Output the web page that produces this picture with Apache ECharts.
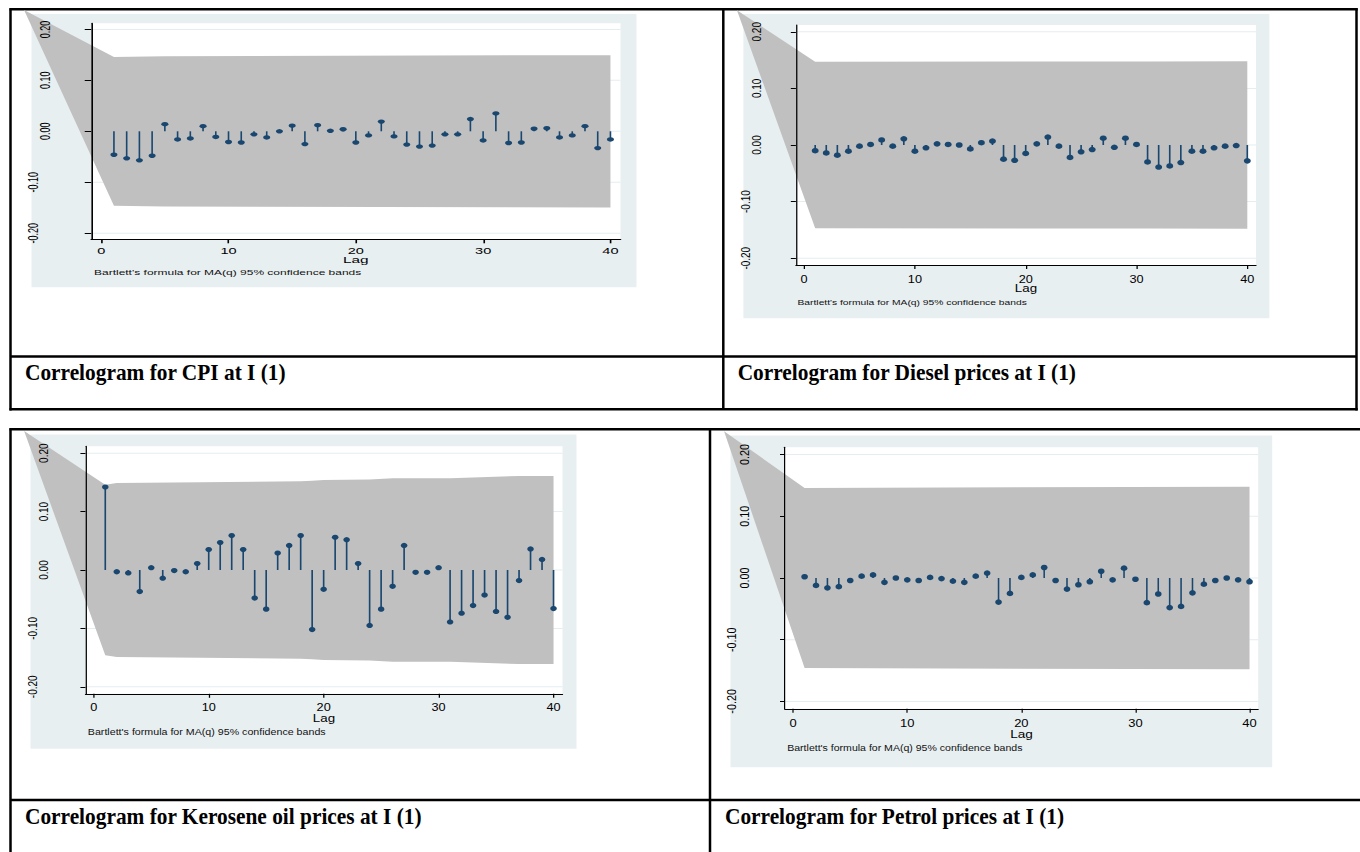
<!DOCTYPE html>
<html>
<head>
<meta charset="utf-8">
<script src="https://cdn.jsdelivr.net/npm/echarts@6/dist/echarts.min.js"></script>
<style>
html, body { margin: 0; padding: 0; background: #fff; }
#page { position: absolute; left: 0; top: 0; width: 1360px; height: 852px; }
.panel { position: absolute; transform-origin: 0 0; }
</style>
</head>
<body>
<div id="page"></div>
<div id="p1" class="panel"></div>
<div id="p2" class="panel"></div>
<div id="p3" class="panel"></div>
<div id="p4" class="panel"></div>
<script>
// lags and autocorrelations
var lags = [1, 2, 3, 4, 5, 6, 7, 8, 9, 10, 11, 12, 13, 14, 15, 16, 17, 18, 19, 20,
            21, 22, 23, 24, 25, 26, 27, 28, 29, 30, 31, 32, 33, 34, 35, 36, 37, 38, 39, 40];

var cpiAcf = [-0.046, -0.053, -0.057, -0.048, 0.014, -0.016, -0.014, 0.010, -0.011, -0.021,
              -0.022, -0.006, -0.012, 0.000, 0.011, -0.025, 0.012, 0.001, 0.004, -0.022,
              -0.008, 0.019, -0.010, -0.026, -0.030, -0.028, -0.006, -0.006, 0.024, -0.018,
              0.035, -0.023, -0.022, 0.005, 0.006, -0.012, -0.008, 0.010, -0.033, -0.016];

var dieselAcf = [-0.010, -0.014, -0.018, -0.011, -0.002, 0.001, 0.009, -0.002, 0.011, -0.011,
                 -0.005, 0.002, 0.001, 0.000, -0.007, 0.004, 0.007, -0.025, -0.027, -0.015,
                 0.002, 0.014, -0.002, -0.022, -0.012, -0.008, 0.012, -0.004, 0.012, 0.001,
                 -0.030, -0.039, -0.037, -0.031, -0.011, -0.011, -0.005, -0.002, -0.001, -0.028];

var keroseneAcf = [0.142, -0.003, -0.005, -0.037, 0.004, -0.014, -0.001, -0.003, 0.011, 0.035,
                   0.047, 0.059, 0.035, -0.048, -0.067, 0.029, 0.042, 0.059, -0.102, -0.033,
                   0.056, 0.052, 0.011, -0.095, -0.067, -0.028, 0.042, -0.004, -0.004, 0.004,
                   -0.089, -0.074, -0.061, -0.043, -0.071, -0.081, -0.018, 0.036, 0.018, -0.066];

var petrolAcf = [0.002, -0.012, -0.016, -0.014, -0.004, 0.003, 0.005, -0.007, 0.000, -0.003,
                 -0.004, 0.001, -0.001, -0.005, -0.007, 0.003, 0.008, -0.039, -0.025, 0.001,
                 0.005, 0.017, -0.004, -0.018, -0.011, -0.006, 0.011, -0.003, 0.016, -0.002,
                 -0.040, -0.026, -0.048, -0.046, -0.024, -0.010, -0.004, 0.000, -0.003, -0.006];

// Bartlett 95% band half widths (read at the lags where they change)
var cpiBandLags = [1, 5, 40];
var cpiBandHalf = [0.146, 0.1475, 0.1495];
var dieselBandLags = [1, 31, 40];
var dieselBandHalf = [0.147, 0.1475, 0.148];
var keroseneBandLags = [1, 2, 18, 19, 20, 24, 26, 31, 37, 40];
var keroseneBandHalf = [0.146, 0.149, 0.152, 0.153, 0.154, 0.155, 0.157, 0.157, 0.161, 0.161];
var petrolBandLags = [1, 40];
var petrolBandHalf = [0.146, 0.148];
// the shaded area runs up to this corner, outside the plot
var bandApex = [-6.06, 0.238];

var xTicks = [0, 10, 20, 30, 40];
var yTicks = [-0.2, -0.1, 0, 0.1, 0.2];
var yTicksPos = [0, 0.1, 0.2];
var yTicksNeg = [-0.2, -0.1];

var captions = ['Correlogram for CPI at I (1)', 'Correlogram for Diesel prices at I (1)',
                'Correlogram for Kerosene oil prices at I (1)', 'Correlogram for Petrol prices at I (1)'];
var noteText = "Bartlett's formula for MA(q) 95% confidence bands";

var navy = '#1a476f';
var sans = 'Liberation Sans';

// page: table rules and captions
function drawPage() {
    var rules = [
        [9.5, 9.3, 1357.7, 9.3], [10.5, 8.3, 10.5, 410.5], [723.3, 9.3, 723.3, 409.3],
        [1356.5, 8.3, 1356.5, 410.5], [10.5, 356.5, 1356.5, 356.5], [9.5, 409.3, 1357.7, 409.3],
        [9.5, 429.3, 1360, 429.3], [10.5, 428.3, 10.5, 852], [710, 429.3, 710, 852],
        [10.5, 800, 1360, 800]
    ];
    var capPos = [[25, 372.5], [737.7, 372.5], [25, 816], [725, 816]];
    var els = [];
    rules.forEach(function (r) {
        els.push({type: 'line', shape: {x1: r[0], y1: r[1], x2: r[2], y2: r[3]},
                  style: {stroke: '#000', lineWidth: 2.5}});
    });
    captions.forEach(function (c, i) {
        els.push({type: 'text', x: capPos[i][0], y: capPos[i][1], scaleX: 0.89,
                  style: {text: c, font: 'bold 24px "Liberation Serif"', fill: '#000', verticalAlign: 'middle'}});
    });
    echarts.init(document.getElementById('page'), null, {renderer: 'svg'})
        .setOption({animation: false, graphic: {elements: els}});
}

function drawPanel(p) {
    var sx = p.sx, L = p.box[0], T = p.box[1];
    var dom = document.getElementById(p.id);
    dom.style.left = L + 'px';
    dom.style.top = T + 'px';
    dom.style.width = (p.box[2] / sx) + 'px';
    dom.style.height = p.box[3] + 'px';
    dom.style.transform = 'scaleX(' + sx + ')';
    var nx = function (x) { return (x - L) / sx; };
    var ny = function (y) { return y - T; };

    var pts = lags.map(function (l, i) { return [l, p.acf[i]]; });
    var fmt = function (v) { return v.toFixed(2); };
    var labelStyle = {fontSize: p.fs, fontFamily: sans, color: '#000'};

    var yBase = {type: 'value', min: -p.yr, max: p.yr, position: 'left', z: 10,
                 splitLine: {show: false}};
    var option = {
        animation: false,
        grid: {left: nx(p.plot[0]), top: ny(p.plot[1]), width: (p.plot[2] - p.plot[0]) / sx,
               height: p.plot[3] - p.plot[1], show: true, backgroundColor: '#fff', borderWidth: 0},
        xAxis: {
            type: 'value', min: p.xr[0], max: p.xr[1], z: 10,
            name: 'Lag', nameLocation: 'middle', nameGap: p.nameGap, nameMoveOverlap: false,
            nameTextStyle: {fontSize: p.fs + 0.5, fontFamily: sans, color: '#000'},
            axisLine: {onZero: false, lineStyle: {color: '#000', width: 1}},
            axisTick: {customValues: xTicks, length: 4, lineStyle: {color: '#000'}},
            axisLabel: Object.assign({customValues: xTicks, margin: p.labelMargin}, labelStyle),
            splitLine: {show: false}
        },
        yAxis: [
            Object.assign({}, yBase, {
                axisLine: {show: true, onZero: false, lineStyle: {color: '#000', width: 1}},
                axisTick: {show: true, customValues: yTicks, length: 4, lineStyle: {color: '#000'}},
                axisLabel: Object.assign({customValues: yTicksPos, rotate: 90, margin: p.posMargin, formatter: fmt}, labelStyle)
            }),
            Object.assign({}, yBase, {
                axisLine: {show: false, onZero: false},
                axisTick: {show: false},
                axisLabel: Object.assign({customValues: yTicksNeg, rotate: 90, margin: p.negMargin, formatter: fmt}, labelStyle)
            })
        ],
        graphic: {elements: [
            {type: 'rect', z: -10, silent: true,
             shape: {x: nx(p.bg[0]), y: ny(p.bg[1]), width: (p.bg[2] - p.bg[0]) / sx, height: p.bg[3] - p.bg[1]},
             style: {fill: '#e8eff1'}},
            {type: 'text', x: nx(p.note[0]), y: ny(p.note[1]), z: 5,
             style: {text: noteText, font: p.noteFs + 'px "' + sans + '"', fill: '#111', verticalAlign: 'middle'}}
        ]},
        series: [
            {   // faint grid lines at the y ticks
                type: 'custom', z: 1, silent: true, clip: false,
                data: yTicks.map(function (v) { return [p.xr[0], v]; }),
                renderItem: function (params, api) {
                    var a = api.coord([api.value(0), api.value(1)]);
                    var b = api.coord([p.xr[1], api.value(1)]);
                    return {type: 'line', shape: {x1: a[0], y1: a[1], x2: b[0], y2: b[1]},
                            style: {stroke: '#e4edf0', lineWidth: 1}};
                }
            },
            {   // confidence band
                type: 'custom', z: 1.5, silent: true, clip: false,
                data: [[p.bandLags[0], p.bandHalf[0]]],
                renderItem: function (params, api) {
                    var points = [api.coord(bandApex)];
                    for (var i = 0; i < p.bandLags.length; i++) {
                        points.push(api.coord([p.bandLags[i], p.bandHalf[i]]));
                    }
                    for (var j = p.bandLags.length - 1; j >= 0; j--) {
                        points.push(api.coord([p.bandLags[j], -p.bandHalf[j]]));
                    }
                    return {type: 'polygon', shape: {points: points}, style: {fill: '#c0c0c0'}};
                }
            },
            {type: 'bar', data: pts, barWidth: p.stem, z: 2, silent: true,
             itemStyle: {color: navy}},
            {type: 'scatter', data: pts, symbol: 'circle', symbolSize: p.sym, z: 3, silent: true,
             itemStyle: {color: navy, opacity: 1}}
        ]
    };
    echarts.init(dom, null, {renderer: 'svg'}).setOption(option);
}

var panels = [
    {id: 'p1', acf: cpiAcf, bandLags: cpiBandLags, bandHalf: cpiBandHalf,
     box: [11.5, 10, 710.5, 345.5], sx: 1.62, bg: [31, 14, 636, 287.3], plot: [90.7, 23.3, 620, 239.3],
     xr: [-0.786, 40.79], yr: 0.212, fs: 9, noteFs: 7.4, note: [93.5, 272], sym: 4.4, stem: 1,
     posMargin: 24, negMargin: 31.5, labelMargin: 7, nameGap: 15.5},
    {id: 'p2', acf: dieselAcf, bandLags: dieselBandLags, bandHalf: dieselBandHalf,
     box: [724.5, 10, 631, 345.5], sx: 1.27, bg: [742.9, 14, 1268.9, 318.3], plot: [795.4, 25, 1255.5, 265],
     xr: [-0.74, 40.785], yr: 0.212, fs: 10, noteFs: 8.1, note: [797, 302.3], sym: 5.5, stem: 1.3,
     posMargin: 26, negMargin: 34.5, labelMargin: 9, nameGap: 18.3},
    {id: 'p3', acf: keroseneAcf, bandLags: keroseneBandLags, bandHalf: keroseneBandHalf,
     box: [11.5, 430.5, 697.5, 368.5], sx: 1.27, bg: [30, 434, 576, 748.3], plot: [85, 445.7, 562, 693.3],
     xr: [-0.72, 40.78], yr: 0.212, fs: 10, noteFs: 8.4, note: [87.3, 731], sym: 5.2, stem: 1.3,
     posMargin: 27.7, negMargin: 37, labelMargin: 8.4, nameGap: 19.4},
    {id: 'p4', acf: petrolAcf, bandLags: petrolBandLags, bandHalf: petrolBandHalf,
     box: [711.5, 430.5, 648.5, 368.5], sx: 1.2, bg: [730, 435, 1271.7, 766.7], plot: [784.3, 446.7, 1257.7, 708.3],
     xr: [-0.736, 40.76], yr: 0.212, fs: 10.8, noteFs: 8.8, note: [786.7, 747.7], sym: 5.6, stem: 1.3,
     posMargin: 27.7, negMargin: 39, labelMargin: 8.8, nameGap: 19.8}
];

drawPage();
panels.forEach(drawPanel);
</script>
</body>
</html>
